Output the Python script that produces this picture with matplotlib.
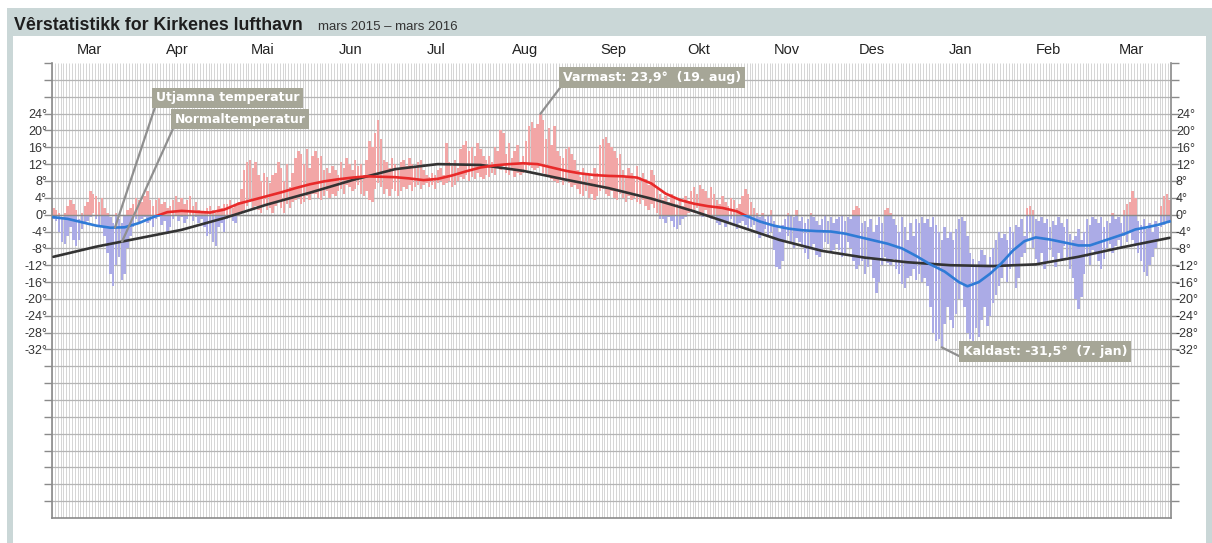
import numpy as np
import pandas as pd
import matplotlib
matplotlib.use("Agg")
import matplotlib.pyplot as plt
from matplotlib.patches import Rectangle
from matplotlib.transforms import blended_transform_factory

# daily max / min temperature, 1 Mar 2015 - 27 Mar 2016
tmax = [
    # mar 2015
    1.5, 1.0, 0.5, -1.0, 0.5, 2.0, 3.5, 2.5, 1.0, -1.0, 0.5, 2.0, 3.0, 5.5, 5.0, 4.5,
    3.0, 4.0, 1.5, 0.5, -0.5, -2.0, 0.5, -1.0, -2.0, 0.0, 1.0, 1.5, 2.5, 4.0, 3.5,
    # apr
    3.0, 4.5, 5.5, 3.5, 2.0, 3.5, 4.0, 2.5, 3.0, 1.5, 2.0, 3.5, 4.5, 3.0, 4.0, 2.5,
    3.5, 4.5, 2.0, 3.0, 1.0, 0.5, 0.5, 1.5, 2.0, 1.0, 0.5, 2.0, 1.5, 2.5,
    # mai
    2.5, 3.5, 1.5, 2.0, 3.0, 6.0, 10.5, 12.5, 13.0, 11.0, 12.5, 9.5, 8.0, 10.0, 9.0, 7.5,
    9.5, 10.0, 12.5, 11.0, 8.0, 12.0, 6.5, 10.0, 13.5, 15.0, 14.5, 12.0, 15.5, 11.0, 14.0,
    # jun
    15.0, 13.5, 14.0, 10.5, 11.0, 10.0, 11.5, 10.5, 9.5, 12.5, 11.0, 13.5, 12.0, 10.5, 13.0,
    11.5, 12.0, 9.5, 13.0, 17.5, 16.0, 19.5, 22.5, 18.0, 13.0, 12.5, 11.0, 13.5, 12.0, 10.5,
    # jul
    12.5, 13.0, 11.5, 13.5, 12.0, 11.0, 12.5, 13.0, 10.5, 9.5, 9.0, 10.0, 9.5, 10.5, 11.0, 9.5,
    17.0, 12.5, 11.5, 13.0, 11.0, 15.5, 16.5, 17.5, 15.0, 16.0, 14.0, 17.0, 15.5, 14.0, 13.0,
    # aug
    14.0, 12.5, 16.0, 15.0, 20.0, 19.5, 14.5, 17.0, 13.5, 15.0, 16.5, 12.5, 14.0, 17.5, 21.0, 22.0,
    20.5, 21.5, 23.9, 22.5, 18.0, 20.5, 16.5, 21.0, 15.0, 14.0, 13.5, 15.5, 16.0, 14.5, 13.0,
    # sep
    10.5, 9.0, 11.0, 10.0, 9.5, 8.5, 11.0, 10.0, 16.5, 18.0, 18.5, 17.0, 16.0, 15.0, 13.5,
    14.5, 10.5, 9.0, 11.0, 10.0, 8.5, 11.5, 9.0, 10.0, 8.5, 7.0, 10.5, 9.5, 6.0, 5.0,
    # okt
    3.5, 4.5, 3.0, 5.0, 4.0, 2.5, 3.5, 2.0, 4.5, 3.0, 5.5, 6.5, 5.0, 7.0, 6.0, 5.5,
    4.0, 6.5, 5.0, 3.5, 2.5, 4.5, 3.0, 2.0, 4.0, 3.5, 1.5, 2.5, 4.5, 6.0, 5.0,
    # nov
    3.0, 1.5, 0.5, -0.5, 0.5, -1.0, 0.0, 1.0, -1.5, -3.0, -4.0, -2.5, -1.0, 0.5, 0.0,
    -0.5, 1.0, -1.5, -0.5, -2.0, -1.0, 0.5, -0.5, -1.5, -2.5, -1.0, 0.0, -1.5, -0.5, -2.0,
    # des
    -1.0, -0.5, 0.0, -1.5, -0.5, -1.0, 1.0, 2.0, 1.5, -2.0, -1.5, -3.0, -1.0, -4.0, -2.5, -0.5,
    -2.0, 1.0, 1.5, 0.5, -1.0, -2.5, -4.0, -0.5, -3.0, -6.0, -2.0, -5.0, -1.0, -2.0, -0.5,
    # jan 2016
    -2.0, -1.0, -3.0, -0.5, -2.5, -4.0, -6.0, -3.0, -5.5, -4.0, -6.0, -3.5, -1.0, -0.5, -1.5, -5.0,
    -9.0, -10.5, -12.0, -11.0, -8.5, -9.5, -12.0, -10.0, -8.0, -6.0, -4.0, -5.5, -4.5, -6.0, -3.0,
    # feb
    -4.0, -2.5, -3.0, -1.0, -5.0, 1.5, 2.0, 1.0, -1.0, -1.5, -0.5, -2.0, -1.0, -3.0, -1.5,
    -2.5, -0.5, -2.0, -3.0, -1.0, -4.5, -6.0, -5.0, -3.5, -6.0, -4.0, -1.0, -2.5, -0.5,
    # mar
    -1.0, -2.0, -0.5, -3.0, -1.5, -2.0, 0.5, -1.0, -0.5, -2.0, 1.0, 2.5, 3.0, 5.5,
    4.0, -1.5, -2.5, -1.0, -3.5, -2.0, -4.0, -1.5, -3.0, 2.0, 4.5, 5.0, 3.5,
]
tmin = [
    # mar 2015
    -1.0, -1.5, -4.0, -6.5, -7.0, -5.0, -3.0, -6.0, -7.5, -6.0, -3.5, -2.0, -1.5, -0.5, 0.5, -1.0,
    -2.5, -3.0, -5.0, -9.0, -14.0, -17.0, -12.0, -10.0, -15.5, -14.0, -8.0, -5.0, -3.0, -1.0, -2.0,
    # apr
    -1.0, -0.5, -2.0, -1.5, -3.0, -1.0, -0.5, -2.5, -1.5, -4.5, -3.0, -1.0, 0.0, -1.5, -0.5,
    -2.0, -1.0, 0.0, -1.5, -0.5, -2.0, -1.0, -3.0, -5.0, -4.5, -6.5, -7.5, -3.0, -2.0, -4.0,
    # mai
    -1.0, -0.5, -1.5, -2.0, 0.0, 0.5, 1.0, 2.0, 3.0, 1.5, 2.0, 1.0, 0.5, 2.5, 1.0, 1.5,
    0.5, 2.0, 3.0, 1.5, 0.5, 2.5, 1.5, 3.0, 3.5, 4.0, 2.5, 3.0, 4.5, 3.5, 5.0,
    # jun
    5.0, 4.0, 3.5, 4.5, 5.5, 4.0, 5.0, 4.5, 5.5, 6.0, 5.0, 7.0, 6.5, 5.5, 6.0,
    7.0, 5.0, 4.5, 5.5, 3.5, 3.0, 6.0, 7.5, 6.5, 5.0, 6.0, 4.5, 6.0, 5.5, 4.5,
    # jul
    5.5, 6.5, 6.0, 7.0, 5.5, 6.5, 7.0, 6.0, 7.0, 7.5, 6.5, 7.0, 6.0, 7.5, 8.0, 7.0,
    7.5, 8.0, 6.5, 7.0, 8.0, 9.0, 8.5, 9.5, 8.0, 9.0, 8.5, 10.0, 9.0, 8.5, 9.5,
    # aug
    9.0, 10.0, 9.5, 11.0, 10.5, 12.0, 10.0, 9.5, 10.5, 9.0, 10.0, 9.5, 10.0, 10.5, 11.5, 11.0,
    10.5, 11.0, 12.0, 10.0, 9.5, 9.0, 8.5, 8.0, 7.5, 8.5, 7.0, 8.0, 7.5, 6.5, 7.0,
    # sep
    6.0, 5.0, 4.5, 5.5, 4.0, 5.0, 3.5, 4.5, 5.5, 6.0, 5.0, 4.5, 5.5, 4.0, 3.5,
    5.0, 4.0, 3.0, 4.5, 3.5, 4.0, 3.0, 2.5, 3.5, 2.0, 1.0, 2.5, 1.5, 0.5, -1.0,
    # okt
    -1.0, -2.0, -0.5, -1.5, -3.0, -3.5, -2.5, -1.0, -0.5, 0.5, 1.0, 0.5, 1.5, 0.0, -0.5, 1.0,
    0.0, -1.0, -0.5, -2.0, -2.5, -1.5, -3.0, -2.0, -1.0, -2.5, -3.5, -2.0, -1.5, -2.5, -3.5,
    # nov
    -3.0, -2.5, -4.0, -5.5, -4.5, -3.5, -5.0, -4.0, -8.5, -12.5, -13.0, -11.0, -6.0, -5.0, -7.0,
    -8.0, -5.5, -6.5, -7.5, -9.0, -10.5, -8.0, -7.0, -9.5, -10.0, -8.5, -6.5, -7.0, -9.0, -8.5,
    # des
    -7.0, -8.5, -10.0, -9.0, -6.5, -8.0, -11.0, -13.0, -12.0, -11.0, -14.0, -12.5, -10.0, -15.0, -18.5, -16.0,
    -12.0, -10.0, -11.5, -12.0, -10.5, -13.0, -14.0, -16.5, -17.5, -15.0, -14.5, -13.0, -15.5, -14.0, -16.0,
    # jan 2016
    -15.0, -17.0, -22.0, -28.0, -30.0, -29.5, -31.5, -26.0, -22.0, -25.0, -27.0, -23.5, -20.0, -16.0, -22.0, -28.0,
    -29.5, -30.0, -27.0, -29.0, -25.0, -22.0, -26.5, -24.0, -21.0, -19.0, -17.0, -15.0, -12.5, -16.0, -13.0,
    # feb
    -12.0, -17.5, -15.0, -10.0, -9.0, -6.0, -4.0, -8.0, -10.5, -12.0, -9.0, -13.0, -11.0, -8.5, -10.0,
    -12.5, -9.0, -11.0, -7.5, -10.0, -13.0, -15.0, -20.0, -22.5, -19.5, -14.0, -10.0, -12.0, -8.5,
    # mar
    -9.0, -11.0, -13.0, -10.5, -8.0, -7.0, -9.0, -7.5, -6.0, -8.0, -5.0, -6.5, -4.0, -6.0,
    -7.0, -9.0, -11.0, -13.5, -14.5, -12.0, -10.0, -8.0, -6.0, -3.0, -2.5, -1.5, -2.0,
]

# smoothed temperature (day number from 1 Mar 2015, value)
smooth_day = [0, 5, 10, 15, 20, 25, 30, 35, 40, 45, 50, 55, 60, 65, 70, 75, 80, 85, 90, 95,
              100, 105, 110, 115, 120, 125, 130, 135, 140, 145, 150, 155, 160, 165, 170, 175,
              180, 185, 190, 195, 200, 205, 210, 215, 220, 225, 230, 235, 240, 243, 248, 253,
              258, 263, 268, 273, 278, 283, 288, 293, 298, 303, 308, 313, 318, 321, 325, 329,
              333, 337, 341, 345, 350, 355, 360, 364, 368, 372, 376, 380, 384, 388, 392]
smooth_val = [-0.6, -1.0, -1.8, -2.6, -3.1, -3.0, -2.0, -0.6, 0.6, 0.9, 0.7, 0.5, 1.2, 2.6,
              3.5, 4.4, 5.3, 6.3, 7.2, 7.9, 8.4, 8.8, 9.1, 9.0, 8.9, 8.6, 8.2, 8.5, 9.3, 10.3,
              11.2, 11.7, 12.0, 12.2, 12.0, 11.2, 10.4, 9.8, 9.4, 9.2, 9.1, 8.8, 7.4, 5.0, 3.5,
              2.6, 2.0, 1.6, 0.8, -0.2, -1.6, -2.6, -3.3, -3.7, -3.9, -4.0, -4.5, -5.3, -6.1,
              -6.9, -8.0, -9.8, -11.8, -13.5, -16.0, -17.0, -16.0, -14.0, -11.5, -8.5, -6.3,
              -5.4, -5.9, -6.6, -7.3, -7.3, -6.4, -5.5, -4.6, -3.5, -3.0, -2.4, -1.6]

# normal temperature
normal_day = [0, 15, 30, 45, 60, 75, 90, 105, 120, 135, 150, 165, 180, 195, 210, 225, 240,
              255, 270, 285, 300, 315, 330, 345, 360, 375, 392]
normal_val = [-10.0, -7.6, -5.6, -3.6, -0.8, 2.4, 5.2, 8.2, 10.8, 12.0, 11.8, 10.4, 8.3, 6.3,
              3.8, 0.8, -2.6, -6.0, -8.6, -10.2, -11.3, -12.0, -12.2, -11.8, -10.0, -7.8, -5.5]

month_names = ['Mar', 'Apr', 'Mai', 'Jun', 'Jul', 'Aug', 'Sep', 'Okt', 'Nov', 'Des',
               'Jan', 'Feb', 'Mar']

tmax = np.array(tmax)
tmin = np.array(tmin)
days = np.arange(len(tmax))
dates = pd.date_range('2015-03-01', periods=len(tmax))
month_start = days[dates.day == 1]

W, H = 1212, 543
fig = plt.figure(figsize=(W / 100, H / 100), dpi=100)


def px_rect(x0, y0, x1, y1, color):
    fig.patches.append(Rectangle((x0 / W, 1 - y1 / H), (x1 - x0) / W, (y1 - y0) / H,
                                 transform=fig.transFigure, color=color, zorder=-10,
                                 lw=0))


# frame + title bar
px_rect(7, 8, W, H, '#cad7d7')
px_rect(12.5, 36, 1206, H, 'white')
fig.text(14 / W, 1 - 30 / H, 'Vêrstatistikk for Kirkenes lufthavn', fontsize=12.8,
         weight='bold', family='Liberation Sans', color='#1e1e1e', va='baseline')
fig.text(318 / W, 1 - 30 / H, 'mars 2015 – mars 2016', fontsize=9.5,
         family='Liberation Sans', color='#333333', va='baseline')

ax = fig.add_axes([52 / W, 1 - 518 / H, (1171 - 52) / W, (518 - 63) / H])
ax.set_xlim(-0.5, len(tmax) - 0.5)
ax.set_ylim(-72, 36)
ax.set_facecolor('white')

# daily grid + 4 degree grid
ax.vlines(np.arange(-0.5, len(tmax)), -72, 36, color='#d5d5d5', lw=0.7, zorder=1)
ax.hlines(np.arange(-68, 36, 4), -0.5, len(tmax) - 0.5, color='#b5b5b5', lw=0.9, zorder=1.2)

above = Rectangle((-10, 0), 500, 100, transform=ax.transData)
below = Rectangle((-10, -100), 500, 100, transform=ax.transData)

red_bars = ax.bar(days, tmax - tmin, bottom=tmin, width=0.85, color='#f2a6a6', lw=0, zorder=2)
blue_bars = ax.bar(days, tmax - tmin, bottom=tmin, width=0.85, color='#ababe6', lw=0, zorder=2)
for p in red_bars:
    p.set_clip_path(above)
for p in blue_bars:
    p.set_clip_path(below)

ax.axhline(0, color='#8a8a8a', lw=1.0, zorder=2.5)

ax.plot(normal_day, normal_val, color='#333333', lw=1.9, zorder=3, solid_capstyle='round')
l_red, = ax.plot(smooth_day, smooth_val, color='#e82a2a', lw=1.9, zorder=4)
l_blue, = ax.plot(smooth_day, smooth_val, color='#2f7bd6', lw=1.9, zorder=4)
l_red.set_clip_path(above)
l_blue.set_clip_path(below)

# axes styling
ax.set_xticks([])
yt = np.arange(-68, 37, 4)
ax.set_yticks(yt)
ax.set_yticklabels([f'{v}°' if -32 <= v <= 24 else '' for v in yt])
ax.tick_params(axis='y', left=True, right=True, labelleft=True, labelright=True,
               length=6, width=1.0, color='#8a8a8a', pad=-2.5, labelsize=9,
               labelcolor='#333333')
for lab in ax.get_yticklabels():
    lab.set_family('Liberation Sans')
for s in ['left', 'right', 'bottom']:
    ax.spines[s].set_color('#8a8a8a')
    ax.spines[s].set_linewidth(1.2)
ax.spines['top'].set_visible(False)

# month labels
trans = blended_transform_factory(ax.transData, ax.transAxes)
for start, name in zip(month_start, month_names):
    ax.text(start + 12.5, 1.029, name, transform=trans, ha='center', va='center',
            fontsize=10.5, family='Liberation Sans', color='#222222')

# annotations
box = dict(boxstyle='square,pad=0.3', fc='#a6a697', ec='none')
arrow = dict(arrowstyle='-', color='#8f8f8f', lw=1.6, relpos=(0, 0), shrinkA=0, shrinkB=0)
txt = dict(fontsize=9, weight='bold', color='white', family='DejaVu Sans',
           va='center', ha='left', bbox=box, arrowprops=arrow, zorder=6)

ax.annotate('Utjamna temperatur', xy=(21.6, np.interp(21.6, smooth_day, smooth_val)),
            xytext=(36, 27.7), **txt)
ax.annotate('Normaltemperatur', xy=(24.1, np.interp(24.1, normal_day, normal_val)),
            xytext=(42.5, 22.7), **txt)
i_hot = int(np.argmax(tmax))
i_cold = int(np.argmin(tmin))
ax.annotate(f'Varmast: {tmax[i_hot]:.1f}°  ({dates[i_hot].day}. aug)'.replace('.', ',', 1),
            xy=(i_hot, tmax[i_hot]), xytext=(179, 32.6), **txt)
ax.annotate(f'Kaldast: {tmin[i_cold]:.1f}°  ({dates[i_cold].day}. jan)'.replace('.', ',', 1),
            xy=(i_cold, tmin[i_cold]), xytext=(319.5, -32.5), **txt)

fig.savefig('out.png', dpi=100)
